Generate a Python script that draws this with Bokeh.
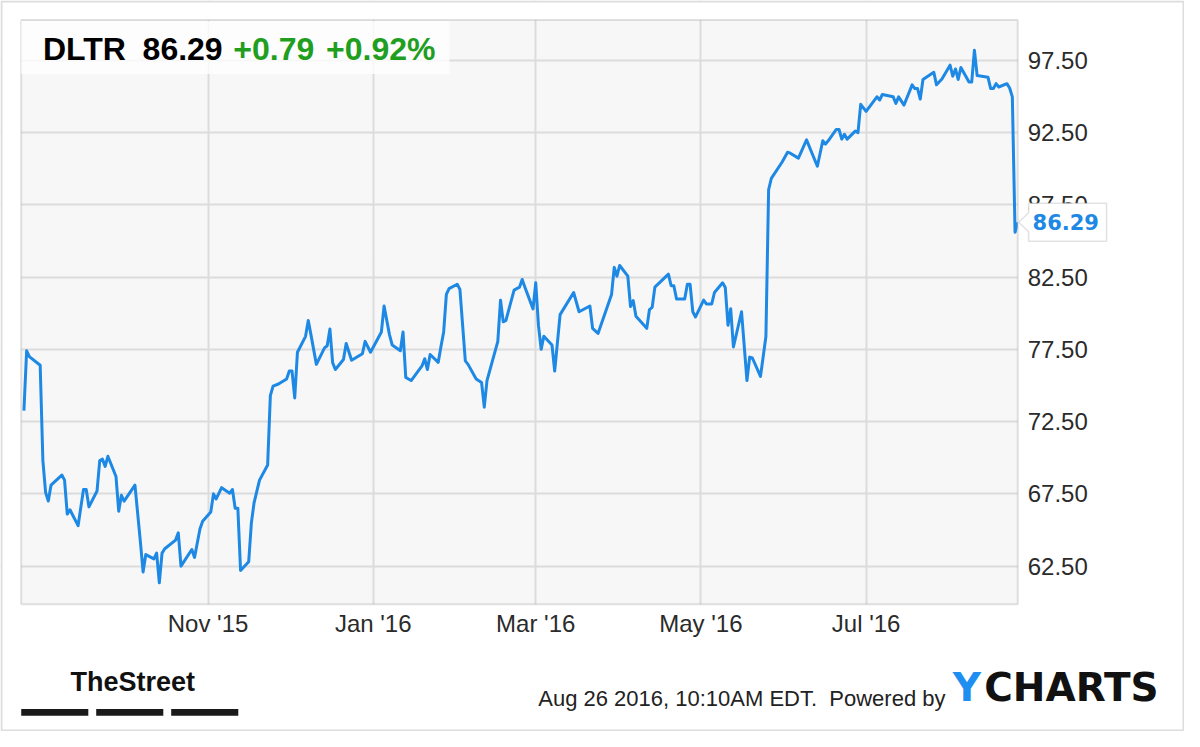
import pandas as pd
from bokeh.plotting import figure
from bokeh.models import (Range1d, FixedTicker, NumeralTickFormatter, DatetimeTickFormatter,
                          Label, BoxAnnotation, PolyAnnotation, ColumnDataSource)
from bokeh.embed import file_html
from bokeh.resources import INLINE

# ---------------- data ----------------
ticker_symbol = "DLTR"
last_price = 86.29
change_abs = "+0.79"
change_pct = "+0.92%"
footer_text = "Aug 26 2016, 10:10AM EDT.\u00a0 Powered by"
brand_left = "TheStreet"
brand_right = ["Y", "CHARTS"]

dates = [
    "2015-08-25", "2015-08-26", "2015-08-27", "2015-08-31", "2015-09-01", "2015-09-02", "2015-09-03",
    "2015-09-04", "2015-09-08", "2015-09-09", "2015-09-10", "2015-09-11", "2015-09-14", "2015-09-16",
    "2015-09-17", "2015-09-18", "2015-09-21", "2015-09-22", "2015-09-23", "2015-09-24", "2015-09-25",
    "2015-09-28", "2015-09-29", "2015-09-30", "2015-10-01", "2015-10-05", "2015-10-07", "2015-10-08",
    "2015-10-09", "2015-10-12", "2015-10-13", "2015-10-14", "2015-10-15", "2015-10-16", "2015-10-20",
    "2015-10-21", "2015-10-22", "2015-10-26", "2015-10-27", "2015-10-29", "2015-10-30", "2015-11-02",
    "2015-11-03", "2015-11-04", "2015-11-06", "2015-11-09", "2015-11-10", "2015-11-11", "2015-11-12",
    "2015-11-13", "2015-11-16", "2015-11-17", "2015-11-18", "2015-11-20", "2015-11-23", "2015-11-24",
    "2015-11-25", "2015-11-27", "2015-11-30", "2015-12-01", "2015-12-02", "2015-12-03", "2015-12-04",
    "2015-12-07", "2015-12-08", "2015-12-09", "2015-12-11", "2015-12-14", "2015-12-15", "2015-12-16",
    "2015-12-17", "2015-12-18", "2015-12-21", "2015-12-22", "2015-12-24", "2015-12-28", "2015-12-29",
    "2015-12-31", "2016-01-04", "2016-01-05", "2016-01-07", "2016-01-08", "2016-01-11", "2016-01-12",
    "2016-01-13", "2016-01-14", "2016-01-15", "2016-01-19", "2016-01-20", "2016-01-21", "2016-01-22",
    "2016-01-25", "2016-01-26", "2016-01-27", "2016-01-28", "2016-01-29", "2016-02-01", "2016-02-02",
    "2016-02-04", "2016-02-05", "2016-02-08", "2016-02-10", "2016-02-11", "2016-02-12", "2016-02-16",
    "2016-02-17", "2016-02-18", "2016-02-19", "2016-02-22", "2016-02-23", "2016-02-24", "2016-02-25",
    "2016-02-26", "2016-02-29", "2016-03-01", "2016-03-02", "2016-03-03", "2016-03-04", "2016-03-07",
    "2016-03-08", "2016-03-10", "2016-03-15", "2016-03-17", "2016-03-21", "2016-03-22", "2016-03-24",
    "2016-03-29", "2016-03-30", "2016-03-31", "2016-04-01", "2016-04-04", "2016-04-05", "2016-04-06",
    "2016-04-07", "2016-04-11", "2016-04-12", "2016-04-13", "2016-04-14", "2016-04-19", "2016-04-20",
    "2016-04-21", "2016-04-22", "2016-04-25", "2016-04-26", "2016-04-27", "2016-04-28", "2016-04-29",
    "2016-05-02", "2016-05-03", "2016-05-05", "2016-05-06", "2016-05-09", "2016-05-10", "2016-05-11",
    "2016-05-12", "2016-05-13", "2016-05-16", "2016-05-18", "2016-05-19", "2016-05-20", "2016-05-23",
    "2016-05-25", "2016-05-26", "2016-05-27", "2016-05-31", "2016-06-02", "2016-06-03", "2016-06-06",
    "2016-06-09", "2016-06-13", "2016-06-15", "2016-06-16", "2016-06-17", "2016-06-20", "2016-06-21",
    "2016-06-22", "2016-06-23", "2016-06-24", "2016-06-27", "2016-06-28", "2016-06-29", "2016-07-01",
    "2016-07-05", "2016-07-06", "2016-07-07", "2016-07-11", "2016-07-12", "2016-07-13", "2016-07-15",
    "2016-07-18", "2016-07-19", "2016-07-20", "2016-07-21", "2016-07-22", "2016-07-26", "2016-07-27",
    "2016-07-29", "2016-08-01", "2016-08-02", "2016-08-03", "2016-08-04", "2016-08-05", "2016-08-08",
    "2016-08-09", "2016-08-10", "2016-08-11", "2016-08-15", "2016-08-16", "2016-08-17", "2016-08-18",
    "2016-08-19", "2016-08-22", "2016-08-23", "2016-08-24", "2016-08-25", "2016-08-26",
]
prices = [
    73.26, 77.40, 77.00, 76.40, 69.80, 67.60, 67.00,
    68.10, 68.80, 68.45, 66.10, 66.40, 65.30, 67.80,
    67.80, 66.60, 67.70, 69.80, 69.90, 69.40, 70.10,
    68.70, 66.30, 67.40, 67.00, 68.10, 64.20, 62.10,
    63.30, 63.00, 63.40, 61.35, 63.40, 63.70, 64.30,
    64.80, 62.50, 63.65, 63.10, 65.07, 65.60, 66.24,
    67.50, 67.15, 67.93, 67.55, 67.80, 66.50, 66.50,
    62.20, 62.80, 65.50, 66.90, 68.45, 69.50, 74.30,
    74.95, 75.10, 75.45, 76.00, 76.00, 74.14, 77.30,
    78.40, 79.50, 78.50, 76.46, 77.60, 77.75, 78.90,
    76.58, 76.10, 76.80, 77.90, 76.74, 77.20, 78.05,
    77.30, 78.70, 80.50, 78.50, 77.80, 77.40, 78.70,
    75.56, 75.45, 75.34, 76.35, 76.85, 76.10, 77.14,
    76.60, 77.70, 78.70, 81.30, 81.70, 82.00, 81.65,
    76.70, 76.46, 75.45, 75.20, 73.50, 75.34, 78.05,
    80.90, 79.40, 79.50, 81.60, 81.70, 81.80, 82.33,
    81.80, 80.30, 82.10, 79.17, 77.50, 78.40, 77.80,
    76.00, 79.90, 81.43, 80.10, 80.50, 78.95, 78.60,
    81.30, 83.17, 82.56, 83.30, 82.56, 80.46, 80.87,
    79.78, 78.95, 80.25, 80.40, 81.80, 82.70, 81.90,
    81.90, 80.98, 80.98, 82.00, 82.00, 80.10, 79.74,
    80.90, 80.64, 80.64, 81.43, 82.10, 81.77, 79.17,
    80.30, 77.66, 80.10, 75.34, 76.96, 76.90, 75.63,
    78.39, 88.54, 89.33, 90.46, 91.14, 91.07, 90.73,
    91.99, 90.17, 91.93, 91.70, 91.93, 92.71, 92.71,
    92.04, 92.38, 92.04, 92.60, 92.49, 94.45, 93.96,
    94.97, 94.75, 95.13, 94.97, 94.52, 94.97, 94.40,
    95.80, 95.54, 95.54, 94.81, 96.17, 96.67, 95.80,
    96.20, 97.16, 96.40, 96.90, 96.17, 97.00, 95.99,
    95.99, 98.20, 96.44, 96.33, 95.54, 95.54, 95.88,
    95.65, 95.88, 95.58, 94.97, 85.60, 86.29,
]

x_tick_dates = ["2015-11-01", "2016-01-01", "2016-03-01", "2016-05-01", "2016-07-01"]
y_ticks = [62.5, 67.5, 72.5, 77.5, 82.5, 87.5, 92.5, 97.5]
x_window = ["2015-08-24", "2016-08-26"]
y_window = [59.86, 100.28]

# ---------------- layout (pixel geometry of the reference, scaled to the figure) ----------------
W, H = 1184, 731
REF_W, REF_H = 1200, 747
def FX(rx):      # reference x pixel -> figure x pixel
    return rx * W / REF_W
def FY(ry):      # reference y pixel (from top) -> screen y (from bottom)
    return H - ry * H / REF_H

PL, PR = FX(21), FX(1031)          # plot-area left / right (pixels from left)
PT, PB = H - FY(20), H - FY(617)   # plot-area top / bottom (pixels from top)

t0 = pd.Timestamp(x_window[0]).value / 1e6
t1 = pd.Timestamp(x_window[1]).value / 1e6
ppx = (PR - PL) / (t1 - t0)
ppy = (PB - PT) / (y_window[1] - y_window[0])
x_range = Range1d(t0 - PL / ppx, t1 + (W - PR) / ppx)
y_range = Range1d(y_window[0] - (H - PB) / ppy, y_window[1] + PT / ppy)

LINE_BLUE = "#1e88e5"
GREEN = "#1f9e1f"
AXIS_FONT = "Liberation Sans"

src = ColumnDataSource(dict(date=pd.to_datetime(dates), price=prices))

p = figure(width=W, height=H, x_axis_type="datetime", y_axis_location="right",
           output_backend="svg", toolbar_location=None,
           x_range=x_range, y_range=y_range,
           min_border_left=0, min_border_right=0, min_border_top=0, min_border_bottom=0)
p.background_fill_color = "white"
p.border_fill_color = "white"
p.outline_line_color = None

# plot-area background (drawn first)
p.add_layout(BoxAnnotation(left=t0, right=t1, bottom=y_window[0], top=y_window[1],
                           fill_color="#f7f7f7", fill_alpha=1.0, line_color=None, level="image"))

xt = FixedTicker(ticks=[pd.Timestamp(d).value / 1e6 for d in x_tick_dates])
yt = FixedTicker(ticks=y_ticks)
p.xaxis.ticker = xt
p.yaxis.ticker = yt
p.xgrid.ticker = xt
p.ygrid.ticker = yt
fmt = "%b '%y"
p.xaxis.formatter = DatetimeTickFormatter(years=fmt, months=fmt, days=fmt, hours=fmt,
                                          minutes=fmt, seconds=fmt, milliseconds=fmt,
                                          microseconds=fmt, hourmin=fmt, minsec=fmt)
p.yaxis.formatter = NumeralTickFormatter(format="0.00")
p.xaxis.fixed_location = y_window[0]
p.yaxis.fixed_location = t1

for ax in (p.xaxis, p.yaxis):
    ax.axis_line_color = None
    ax.major_tick_line_color = None
    ax.minor_tick_line_color = None
    ax.major_tick_in = 0
    ax.major_tick_out = 0
    ax.major_label_text_font = AXIS_FONT
    ax.major_label_text_font_size = "24px"
    ax.major_label_text_color = "#2b2b2b"
p.xaxis.major_label_standoff = 6
p.yaxis.major_label_standoff = 10

p.grid.grid_line_color = "#dcdcdc"
p.grid.grid_line_width = 2

# white masks so that grid lines stop at the plot-area edges
mask = dict(fill_color="white", fill_alpha=1.0, line_color=None, level="glyph",
            left_units="screen", right_units="screen", top_units="screen", bottom_units="screen")
p.add_layout(BoxAnnotation(left=0, right=PL, bottom=0, top=H, **mask))
p.add_layout(BoxAnnotation(left=PR, right=W, bottom=0, top=H, **mask))
p.add_layout(BoxAnnotation(left=0, right=W, bottom=H - PT, top=H, **mask))
p.add_layout(BoxAnnotation(left=0, right=W, bottom=0, top=H - PB, **mask))

p.line("date", "price", source=src, line_color=LINE_BLUE, line_width=3,
       line_join="round")

# plot-area border
p.add_layout(BoxAnnotation(left=t0, right=t1, bottom=y_window[0], top=y_window[1],
                           fill_alpha=0, line_color="#9a9a9a", line_width=2))
# outer image border
p.add_layout(BoxAnnotation(left=1, right=W - 1, bottom=1, top=H - 1,
                           left_units="screen", right_units="screen",
                           top_units="screen", bottom_units="screen",
                           fill_alpha=0, line_color="#8f8f8f", line_width=2))

# title box
p.add_layout(BoxAnnotation(left=FX(21), right=FX(455), top=FY(21), bottom=FY(75),
                           left_units="screen", right_units="screen",
                           top_units="screen", bottom_units="screen",
                           fill_color="white", fill_alpha=0.78, line_color=None))
title_y = FY(49.5)
title_items = [(FX(43), ticker_symbol, "black"), (FX(144), f"{last_price:.2f}", "black"),
               (FX(236), change_abs, GREEN), (FX(330), change_pct, GREEN)]
for tx, tt, tc in title_items:
    p.add_layout(Label(x=tx, y=title_y, x_units="screen", y_units="screen", text=tt,
                       text_font=AXIS_FONT, text_font_style="bold", text_font_size="32px",
                       text_color=tc, text_baseline="middle"))

# last value callout
v = prices[-1]
half_box, half_tip = 19 / ppy, 9.5 / ppy
p.add_layout(PolyAnnotation(xs=[FX(1042), FX(1121), FX(1121), FX(1042), FX(1042), FX(1032), FX(1042)],
                            ys=[v + half_box, v + half_box, v - half_box, v - half_box,
                                v - half_tip, v, v + half_tip],
                            xs_units="screen", ys_units="data",
                            fill_color="white", fill_alpha=1.0,
                            line_color="#a0a0a0", line_width=1.5))
p.add_layout(Label(x=FX(1046), y=v, x_units="screen", y_units="data", text=f"{v:.2f}",
                   text_font="DejaVu Sans", text_font_style="bold", text_font_size="21px",
                   text_color=LINE_BLUE, text_baseline="middle"))

# footer
p.add_layout(Label(x=FX(71), y=FY(712), x_units="screen", y_units="screen", text=brand_left,
                   text_font=AXIS_FONT, text_font_style="bold",
                   text_font_size="27px", text_color="#111111"))
for bl in (21, 97, 173):
    p.add_layout(BoxAnnotation(left=FX(bl), right=FX(bl + 68), top=FY(724), bottom=FY(731),
                               left_units="screen", right_units="screen",
                               top_units="screen", bottom_units="screen",
                               fill_color="#1a1a1a", fill_alpha=1.0, line_color=None))
p.add_layout(Label(x=FX(545), y=FY(726), x_units="screen", y_units="screen", text=footer_text,
                   text_font=AXIS_FONT, text_font_size="22px", text_color="#222222"))
p.add_layout(Label(x=FX(965), y=FY(725), x_units="screen", y_units="screen", text=brand_right[0],
                   text_font="DejaVu Sans", text_font_style="bold",
                   text_font_size="39px", text_color="#1e8ff0"))
p.add_layout(Label(x=FX(997), y=FY(725), x_units="screen", y_units="screen", text=brand_right[1],
                   text_font="DejaVu Sans", text_font_style="bold",
                   text_font_size="39px", text_color="#111111"))

open("out.html", "w").write(file_html(p, INLINE))
